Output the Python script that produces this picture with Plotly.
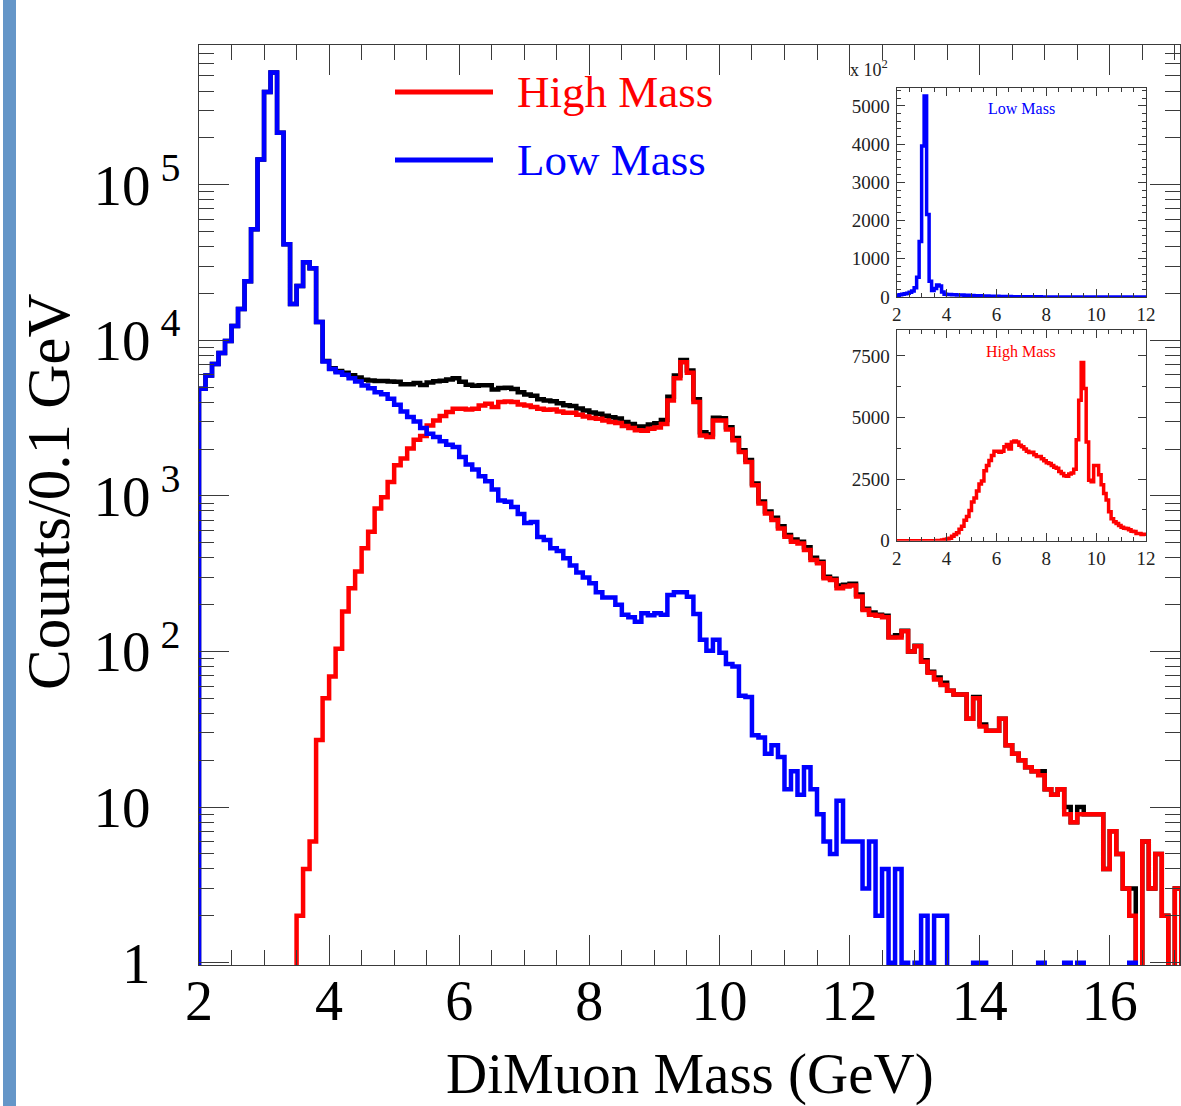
import plotly.graph_objects as go

# ---------------- data (counts per 0.1 GeV bin, bins start at 2.0 GeV) ----------------
mass_start = 2.0
bin_width = 0.1

low_mass = [
    4875, 5930, 7050, 8290, 9900, 12360, 15900, 24000, 51700, 145000,      # 2.x
    395000, 526000, 216000, 41400, 17100, 22300, 31700, 29000, 13100, 7300,  # 3.x
    6550, 6240, 6000, 5710, 5440, 5120, 4920, 4640, 4500, 4207,            # 4.x
    3852, 3490, 3212, 3011, 2731, 2512, 2391, 2243, 2135, 2063,            # 5.x
    1779, 1589, 1477, 1337, 1240, 1100, 935, 916, 850, 765,                # 6.x
    670, 680, 545, 520, 460, 443, 397, 357, 322, 299,                      # 7.x
    275, 240, 222, 222, 200, 172, 166, 155, 176, 171,                      # 8.x
    176, 172, 231, 240, 240, 225, 174, 119, 101, 119,                      # 9.x
    98, 83, 80, 52, 51, 29, 28, 22, 25, 21,                                # 10.x
    13, 17, 12, 18, 13, 9, 6, 5, 11, 6,                                    # 11.x
    6, 6, 3, 6, 2, 4, 1, 4, 1, 0,                                          # 12.x
    1, 2, 1, 2, 2, 0, 0, 0, 0, 1,                                          # 13.x
    1, 0, 0, 0, 0, 0, 0, 0, 0, 1,                                          # 14.x
    0, 0, 0, 1, 0, 1, 0, 0, 0, 0,                                          # 15.x
    0, 0, 0, 1, 0, 0, 0, 0, 0, 0,                                          # 16.x
    0,                                                                     # 17.0
]

high_mass = [
    0, 0, 0, 0, 0, 0, 0, 0, 0, 0,
    0, 0, 0, 0, 0, 2, 4, 6, 27, 50,
    69, 104, 181, 255, 327, 460, 589, 830, 980, 1230,
    1573, 1737, 2013, 2298, 2427, 2838, 3055, 3259, 3456, 3630,
    3630, 3591, 3630, 3811, 3907, 3722, 4008, 4045, 4008, 3870,
    3811, 3722, 3630, 3578, 3591, 3490, 3421, 3421, 3321, 3243,
    3163, 3133, 3055, 2983, 2940, 2813, 2731, 2638, 2620, 2703,
    2750, 2900, 4100, 5700, 7230, 6180, 4008, 2449, 2392, 3055,
    3055, 2675, 2275, 1916, 1653, 1171, 894, 771, 699, 618,
    547, 508, 495, 449, 387, 369, 296, 288, 255, 262,
    266, 226, 185, 172, 170, 166, 123, 123, 135, 100,
    108, 86, 73, 66, 61, 56, 53, 53, 37, 50,
    33, 31, 31, 37, 25, 22, 20, 18, 17, 16,
    13, 12, 13, 9, 8, 9, 9, 9, 9, 4,
    7, 5, 3, 2, 0, 6, 3, 5, 2, 0,
    3,
]

all_events = [
    4875, 5930, 7050, 8290, 9900, 12360, 15900, 24000, 51700, 145000,
    395000, 526000, 216000, 41400, 17100, 22302, 31704, 29006, 13127, 7350,
    6619, 6344, 6181, 5965, 5767, 5580, 5509, 5470, 5480, 5437,
    5425, 5227, 5225, 5309, 5158, 5350, 5446, 5502, 5591, 5693,
    5409, 5180, 5107, 5148, 5147, 4822, 4943, 4961, 4858, 4635,
    4481, 4402, 4175, 4098, 4051, 3933, 3818, 3778, 3643, 3542,
    3438, 3373, 3277, 3205, 3140, 2985, 2897, 2793, 2796, 2874,
    2926, 3072, 4331, 5940, 7470, 6405, 4182, 2568, 2493, 3174,
    3153, 2758, 2355, 1968, 1704, 1200, 922, 793, 724, 639,
    560, 525, 507, 467, 400, 378, 302, 293, 266, 268,
    272, 232, 188, 178, 172, 170, 124, 127, 136, 100,
    109, 88, 74, 68, 63, 56, 53, 53, 37, 51,
    34, 31, 31, 37, 25, 22, 20, 18, 17, 17,
    13, 12, 13, 10, 8, 10, 9, 9, 9, 4,
    7, 5, 3, 3, 0, 6, 3, 5, 2, 0,
    3,
]

y_tick_values = [1, 10, 100, 1000, 10000, 100000]
y_tick_labels = ["1", "10", "10", "10", "10", "10"]
y_tick_powers = ["", "", "2", "3", "4", "5"]

inset_low_ticks = [0, 1000, 2000, 3000, 4000, 5000]      # in units of 10^2
inset_high_ticks = [0, 2500, 5000, 7500]

# ---------------- helpers ----------------
n_bins = len(low_mass)
edges = [round(mass_start + bin_width * i, 2) for i in range(n_bins + 1)]
FLOOR = 1e-3  # empty bins fall below the log axis and are clipped


def step_xy(vals):
    xs = [edges[0]] + edges[:n_bins] + [edges[n_bins], edges[n_bins]]
    shown = [v if v > 0 else FLOOR for v in vals]
    ys = [FLOOR] + shown + [shown[-1], FLOOR]
    return xs, ys


SERIF = "Liberation Serif"
AX = "#3a3a3a"
RED = "#ff0000"
BLUE = "#0000ff"

fig = go.Figure()

for vals, col in [(all_events, "#000000"), (high_mass, RED), (low_mass, BLUE)]:
    xs, ys = step_xy(vals)
    fig.add_trace(go.Scatter(x=xs, y=ys, mode="lines", line=dict(color=col, width=4.5, shape="hv"),
                             showlegend=False, hoverinfo="skip", xaxis="x", yaxis="y"))

xs, ys = step_xy(low_mass)
fig.add_trace(go.Scatter(x=xs, y=ys, mode="lines", line=dict(color=BLUE, width=3.5, shape="hv"),
                         showlegend=False, hoverinfo="skip", xaxis="x2", yaxis="y2"))
xs, ys = step_xy(high_mass)
fig.add_trace(go.Scatter(x=xs, y=ys, mode="lines", line=dict(color=RED, width=3.5, shape="hv"),
                         showlegend=False, hoverinfo="skip", xaxis="x3", yaxis="y3"))

# ---------------- geometry (pixels -> paper) ----------------
W, H = 1181, 1106
L, R, T, B = 199, 1180, 45, 965
PW, PH = R - L, B - T


def px(x):
    return (x - L) / PW


def py(y):
    return (B - y) / PH


minor_y = [m * 10 ** d for d in range(0, 6) for m in range(2, 10)]

y_text = [f"{a}<sup> {p if p else chr(0x2007)}</sup>" for a, p in zip(y_tick_labels, y_tick_powers)]

common_axis = dict(showline=True, linecolor=AX, linewidth=1.4, mirror="ticks", showgrid=False,
                   zeroline=False, ticks="inside", tickcolor=AX, tickwidth=1.3, automargin=False)

fig.update_layout(
    width=W, height=H, autosize=False,
    margin=dict(l=L, r=W - R, t=T, b=H - B, autoexpand=False),
    paper_bgcolor="white", plot_bgcolor="white",
    xaxis=dict(common_axis, domain=[0, 1], range=[2, 17.08], tickmode="linear", tick0=2, dtick=2,
               ticklen=30, minor=dict(ticks="inside", ticklen=15, dtick=0.5, tick0=2, tickcolor=AX,
                                      tickwidth=1.3),
               tickfont=dict(family=SERIF, size=56, color="black"), ticklabelstandoff=-13),
    yaxis=dict(common_axis, type="log", domain=[0, 1], range=[-0.015, 5.898], tickmode="array",
               tickvals=y_tick_values, ticktext=y_text, ticklen=30,
               minor=dict(ticks="inside", ticklen=15, tickmode="array", tickvals=minor_y,
                          tickcolor=AX, tickwidth=1.3),
               tickfont=dict(family=SERIF, size=57, color="black"), ticklabelstandoff=6),
    xaxis2=dict(common_axis, domain=[px(896.7), px(1146)], anchor="y2", range=[2, 12],
                tickmode="linear", tick0=2, dtick=2, ticklen=8,
                minor=dict(ticks="inside", ticklen=4, dtick=0.5, tick0=2, tickcolor=AX),
                tickfont=dict(family=SERIF, size=19, color="#222"), ticklabelstandoff=0),
    yaxis2=dict(common_axis, domain=[py(297), py(88)], anchor="x2", range=[0, 547000],
                tickmode="array", tickvals=[v * 100 for v in inset_low_ticks],
                ticktext=[str(v) for v in inset_low_ticks], ticklen=8,
                minor=dict(ticks="inside", ticklen=4, dtick=20000, tickcolor=AX),
                tickfont=dict(family=SERIF, size=19, color="#222"), ticklabelstandoff=2),
    xaxis3=dict(common_axis, domain=[px(896.7), px(1146)], anchor="y3", range=[2, 12],
                tickmode="linear", tick0=2, dtick=2, ticklen=8,
                minor=dict(ticks="inside", ticklen=4, dtick=0.5, tick0=2, tickcolor=AX),
                tickfont=dict(family=SERIF, size=19, color="#222"), ticklabelstandoff=0),
    yaxis3=dict(common_axis, domain=[py(540.7), py(330)], anchor="x3", range=[0, 8550],
                tickmode="array", tickvals=inset_high_ticks,
                ticktext=[str(v) for v in inset_high_ticks], ticklen=8,
                minor=dict(ticks="inside", ticklen=4, dtick=1250, tickcolor=AX),
                tickfont=dict(family=SERIF, size=19, color="#222"), ticklabelstandoff=2),
)

# left decorative bar
fig.add_shape(type="rect", xref="paper", yref="paper", x0=px(3), x1=px(16), y0=py(H), y1=py(0),
              fillcolor="#6596c8", line=dict(width=0), layer="below")

# legend (manual, ROOT style)
for ypix, col, label in [(92, RED, "High Mass"), (160, BLUE, "Low Mass")]:
    fig.add_shape(type="line", xref="paper", yref="paper", x0=px(395), x1=px(493), y0=py(ypix), y1=py(ypix),
                  line=dict(color=col, width=5))
    fig.add_annotation(x=px(515), y=py(ypix), xref="paper", yref="paper", text=label, showarrow=False,
                       xanchor="left", yanchor="middle", font=dict(family=SERIF, size=45, color=col))

# axis titles
fig.add_annotation(x=0.5, y=py(1074), xref="paper", yref="paper", text="DiMuon Mass (GeV)", showarrow=False,
                   xanchor="center", yanchor="middle", font=dict(family=SERIF, size=57, color="black"))
fig.add_annotation(x=px(48), y=py(492), xref="paper", yref="paper", text="Counts/0.1 GeV", showarrow=False,
                   textangle=-90, xanchor="center", yanchor="middle",
                   font=dict(family=SERIF, size=61, color="black"))

# inset labels
fig.add_annotation(x=px(1021), y=py(108), xref="paper", yref="paper", text="Low Mass", showarrow=False,
                   xanchor="center", yanchor="middle", font=dict(family=SERIF, size=16, color=BLUE))
fig.add_annotation(x=px(1021), y=py(352), xref="paper", yref="paper", text="High Mass", showarrow=False,
                   xanchor="center", yanchor="middle", font=dict(family=SERIF, size=16, color=RED))
fig.add_annotation(x=px(848), y=py(68), xref="paper", yref="paper", text="x 10<sup>2</sup>", showarrow=False,
                   xanchor="left", yanchor="middle", font=dict(family=SERIF, size=18, color="#222"))

fig.write_html("out.html",
               config={"responsive": False, "displayModeBar": False},
               default_width="1181px", default_height="1106px",
               post_script="document.body.style.margin='0px';document.body.style.padding='0px';"
                           "document.body.style.overflow='hidden';")
